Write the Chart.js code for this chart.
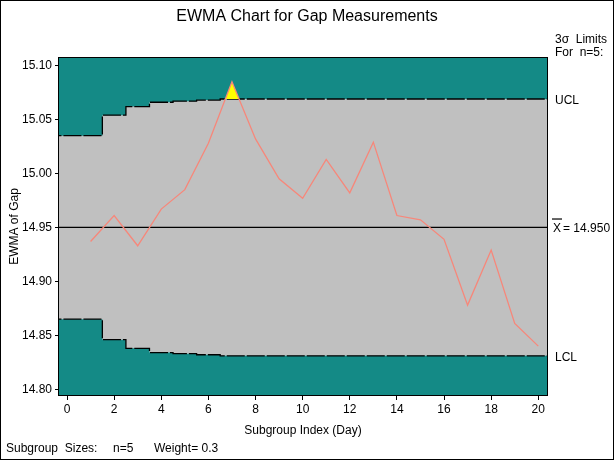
<!DOCTYPE html>
<html>
<head>
<meta charset="utf-8">
<script src="https://cdn.jsdelivr.net/npm/chart.js@4.4.1/dist/chart.umd.min.js"></script>
<style>
  html, body { margin: 0; padding: 0; background: #fff; }
  #wrap { width: 614px; height: 460px; }
</style>
</head>
<body>
<div id="wrap"><canvas id="ewmaChart" width="614" height="460"></canvas></div>
<script>
// values
const subgroups = [1, 2, 3, 4, 5, 6, 7, 8, 9, 10, 11, 12, 13, 14, 15, 16, 17, 18, 19, 20];
const ewma = [14.937, 14.961, 14.933, 14.967, 14.985, 15.028, 15.085, 15.032, 14.995, 14.977,
              15.013, 14.982, 15.029, 14.961, 14.957, 14.939, 14.878, 14.929, 14.861, 14.840];
const ucl = [15.035, 15.054, 15.062, 15.066, 15.067, 15.068, 15.069, 15.069, 15.069, 15.069,
             15.069, 15.069, 15.069, 15.069, 15.069, 15.069, 15.069, 15.069, 15.069, 15.069];
const lcl = [14.865, 14.846, 14.838, 14.834, 14.833, 14.832, 14.831, 14.831, 14.831, 14.831,
             14.831, 14.831, 14.831, 14.831, 14.831, 14.831, 14.831, 14.831, 14.831, 14.831];
const centerLine = 14.950;
const xTicks = [0, 2, 4, 6, 8, 10, 12, 14, 16, 18, 20];
const yTicks = [14.80, 14.85, 14.90, 14.95, 15.00, 15.05, 15.10];

const TEAL = "#148a86";
const GRAY = "#c0c0c0";
const SALMON = "#f7877a";
const FONT = "'Liberation Sans', Arial, sans-serif";

// limit lines run past both ends of the axis so the bands cover the whole plot
function stepLine(vals) {
  const pts = subgroups.map((s, i) => ({ x: s, y: vals[i] }));
  pts.unshift({ x: subgroups[0] - 2, y: vals[0] });
  pts.push({ x: subgroups[subgroups.length - 1] + 1, y: vals[vals.length - 1] });
  return pts;
}
const ewmaPts = subgroups.map((s, i) => ({ x: s, y: ewma[i] }));

const decor = {
  id: "decor",
  beforeDatasetsDraw(chart) {
    const { ctx, chartArea: a } = chart;
    ctx.save();
    ctx.fillStyle = GRAY;
    ctx.fillRect(a.left, a.top, a.right - a.left, a.bottom - a.top);
    ctx.restore();
  },
  afterDraw(chart) {
    const { ctx, chartArea: a, scales } = chart;
    const y = scales.y;
    ctx.save();
    ctx.strokeStyle = "#000";
    ctx.lineWidth = 1;
    ctx.strokeRect(Math.round(a.left) - 0.5, Math.round(a.top) - 0.5,
                   Math.round(a.right - a.left) + 1, Math.round(a.bottom - a.top) + 1);
    ctx.strokeRect(0.5, 0.5, 613, 459);

    ctx.fillStyle = "#000";
    ctx.textBaseline = "middle";
    ctx.font = "16px " + FONT;
    ctx.textAlign = "center";
    ctx.fillText("EWMA Chart for Gap Measurements", 307, 17);

    ctx.font = "12px " + FONT;
    ctx.textAlign = "left";
    ctx.fillText("3\u03c3  Limits", 555, 40);
    ctx.fillText("For  n=5:", 555, 53);
    const tx = a.right + 8;
    ctx.fillText("UCL", tx, y.getPixelForValue(ucl[ucl.length - 1]) + 2);
    ctx.fillText("LCL", tx, y.getPixelForValue(lcl[lcl.length - 1]) + 2);
    const cy = y.getPixelForValue(centerLine) + 1;
    ctx.fillText("X", tx - 2, cy);
    const xw = ctx.measureText("X").width;
    ctx.fillRect(tx - 3, cy - 10, xw + 2, 1.2);
    ctx.fillText("= 14.950", tx - 2 + xw + 2, cy);

    ctx.fillText("Subgroup  Sizes:", 6, 449);
    ctx.fillText("n=5", 113, 449);
    ctx.fillText("Weight= 0.3", 154, 449);
    ctx.restore();
  }
};

new Chart(document.getElementById("ewmaChart"), {
  type: "line",
  data: {
    datasets: [
      {
        data: ewmaPts,
        borderColor: SALMON,
        borderWidth: 1.3,
        pointRadius: 0,
        fill: false
      },
      {
        data: ewmaPts,
        borderWidth: 0,
        borderColor: "rgba(0,0,0,0)",
        pointRadius: 0,
        fill: { target: { value: ucl[6] }, above: "#ffff00", below: "rgba(0,0,0,0)" }
      },
      {
        data: [{ x: -2, y: centerLine }, { x: 22, y: centerLine }],
        borderColor: "#000",
        borderWidth: 1.3,
        pointRadius: 0,
        fill: false
      },
      {
        data: stepLine(ucl),
        stepped: "middle",
        borderColor: "#000",
        borderWidth: 1.3,
        borderDash: [18, 2],
        pointRadius: 0,
        fill: "end",
        backgroundColor: TEAL
      },
      {
        data: stepLine(lcl),
        stepped: "middle",
        borderColor: "#000",
        borderWidth: 1.3,
        borderDash: [18, 2],
        pointRadius: 0,
        fill: "start",
        backgroundColor: TEAL
      }
    ]
  },
  options: {
    responsive: false,
    animation: false,
    devicePixelRatio: 1,
    layout: { padding: { left: 0, top: 58, right: 67, bottom: 22 } },
    plugins: { legend: { display: false }, tooltip: { enabled: false } },
    scales: {
      x: {
        type: "linear",
        min: -0.34,
        max: 20.37,
        afterFit: s => { s.height = 43; },
        afterBuildTicks: s => { s.ticks = xTicks.map(v => ({ value: v })); },
        grid: { display: true, drawOnChartArea: false, drawTicks: true, tickLength: 5, color: "#000" },
        border: { display: true, color: "#000" },
        ticks: { color: "#000", font: { family: FONT, size: 12 }, padding: 2, maxRotation: 0 },
        title: { display: true, text: "Subgroup Index (Day)", color: "#000", font: { family: FONT, size: 12 }, padding: { top: 4, bottom: 0 } }
      },
      y: {
        type: "linear",
        min: 14.7947,
        max: 15.107,
        afterFit: s => { s.width = 59; },
        afterBuildTicks: s => { s.ticks = yTicks.map(v => ({ value: v })); },
        grid: { display: true, drawOnChartArea: false, drawTicks: true, tickLength: 4, color: "#000" },
        border: { display: true, color: "#000" },
        ticks: { color: "#000", font: { family: FONT, size: 12 }, padding: 3, callback: v => v.toFixed(2) },
        title: { display: true, text: "EWMA of Gap", color: "#000", font: { family: FONT, size: 12 }, padding: { top: 7, bottom: 0 } }
      }
    }
  },
  plugins: [decor]
});
</script>
</body>
</html>
